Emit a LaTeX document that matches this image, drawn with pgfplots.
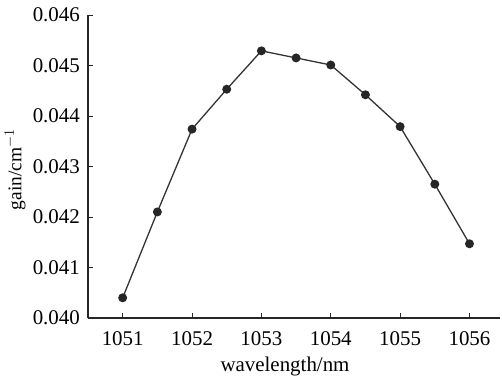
\documentclass[border=0pt]{standalone}
\usepackage{fontspec}
\setmainfont{Liberation Serif}
\usepackage{pgfplots}
\pgfplotsset{compat=1.18}
\begin{document}
\fontsize{21}{24}\selectfont
\begin{tikzpicture}[x=1bp,y=1bp]
\path[use as bounding box] (-88,-58) rectangle (414,318);
\begin{axis}[
  at={(0,0)}, anchor=origin,
  scale only axis, width=412bp, height=303bp,
  xmin=1050.5, xmax=1056.44, ymin=0.040, ymax=0.046,
  axis lines=left, axis line style={-, line width=1.1pt, black!85},
  tick style={line width=1pt, black!85}, tick align=inside,
  major tick length=5bp,
  xtick={1051,1052,1053,1054,1055,1056},
  xticklabels={\textrm{1051},\textrm{1052},\textrm{1053},\textrm{1054},\textrm{1055},\textrm{1056}},
  ytick={0.040,0.041,0.042,0.043,0.044,0.045,0.046},
  yticklabels={\textrm{0.040},\textrm{0.041},\textrm{0.042},\textrm{0.043},\textrm{0.044},\textrm{0.045},\textrm{0.046}},
  scaled y ticks=false,
  tick label style={font=\fontsize{21}{24}\selectfont},
  x tick label style={yshift=-6bp},
  y tick label style={xshift=-1bp},
  label style={font=\fontsize{21}{24}\selectfont},
  xlabel={wavelength/nm},
  ylabel={gain/cm\textsuperscript{$-1$}},
  xlabel style={xshift=-9bp, yshift=2bp},
  ylabel style={font=\fontsize{19.5}{22}\selectfont, yshift=-7bp, xshift=-3bp},
  clip=false,
]
\addplot[color=black!80, line width=1.3pt, mark=*, mark size=3.8bp, mark options={fill=black!85, draw=black!85}]
coordinates {
(1051,0.04040)
(1051.5,0.04210)
(1052,0.04374)
(1052.5,0.04453)
(1053,0.04529)
(1053.5,0.04515)
(1054,0.04501)
(1054.5,0.04442)
(1055,0.04379)
(1055.5,0.04265)
(1056,0.04147)
};
\end{axis}
\end{tikzpicture}
\end{document}
